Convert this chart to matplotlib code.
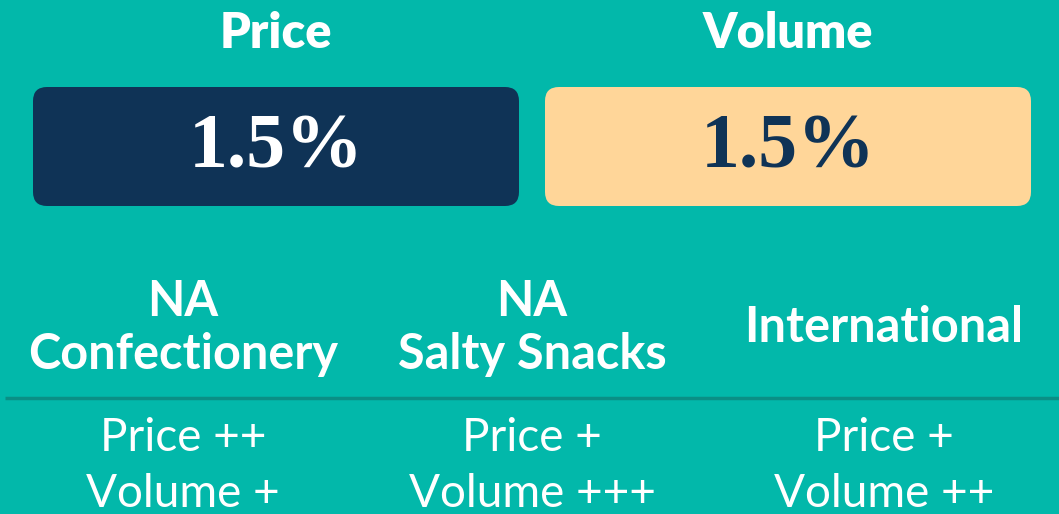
import matplotlib.pyplot as plt
from matplotlib.patches import FancyBboxPatch

# headline numbers
headers = ['Price', 'Volume']
values = [1.5, 1.5]
box_colors = ['#0F3356', '#FFD699']
value_colors = ['white', '#0F3356']

# segments
segments = ['NA\nConfectionery', 'NA\nSalty Snacks', 'International']
price_marks = ['++', '+', '+']
volume_marks = ['+', '+++', '++']

bg = '#02B8AA'

fig = plt.figure(figsize=(10.59, 5.14), dpi=100)
fig.patch.set_facecolor(bg)
ax = fig.add_axes([0, 0, 1, 1])
ax.set_xlim(0, 1059)
ax.set_ylim(514, 0)
ax.axis('off')

# top row: two rounded boxes
box_x = [33, 545]
box_w = 486
for i, h in enumerate(headers):
    x0 = box_x[i]
    cx = x0 + box_w / 2
    ax.text(cx, 33, h, ha='center', va='center', fontsize=35, color='white',
            fontweight='heavy', family='Lato')
    box = FancyBboxPatch((x0 + 14, 87 + 14), box_w - 28, 119 - 28,
                         boxstyle='round,pad=14', fc=box_colors[i], ec='none')
    ax.add_patch(box)
    ax.text(cx, 149, '{:.1f}%'.format(values[i]), ha='center', va='center',
            fontsize=56, color=value_colors[i], fontweight='bold',
            family='Liberation Serif')

# segment columns
col_x = [183, 532, 884]
for i, s in enumerate(segments):
    ax.text(col_x[i], 328, s, ha='center', va='center', fontsize=35,
            color='white', fontweight='bold', family='Lato', linespacing=1.22)
    ax.text(col_x[i], 438, 'Price ' + price_marks[i], ha='center', va='center',
            fontsize=33, color='white', fontweight='normal', family='Lato')
    ax.text(col_x[i], 494, 'Volume ' + volume_marks[i], ha='center', va='center',
            fontsize=33, color='white', fontweight='normal', family='Lato')

ax.plot([5, 1059], [398, 398], color='#0A8F85', lw=2.5, solid_capstyle='butt')

fig.savefig('out.png', dpi=100, facecolor=bg)
